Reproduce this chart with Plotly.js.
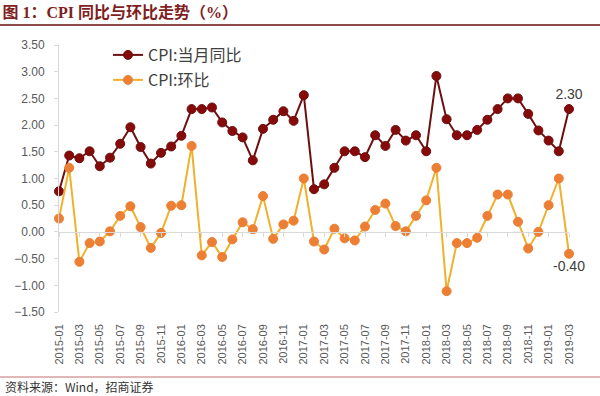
<!DOCTYPE html>
<html>
<head>
<meta charset="utf-8">
<script src="https://cdn.plot.ly/plotly-3.0.1.min.js"></script>
<style>html,body{margin:0;padding:0;background:#fff;}#chart{width:600px;height:396px;}</style>
</head>
<body>
<div id="chart"></div>
<script>
// Months 2015-01 .. 2019-03
const months = [
  "2015-01","2015-02","2015-03","2015-04","2015-05","2015-06","2015-07","2015-08","2015-09","2015-10","2015-11","2015-12",
  "2016-01","2016-02","2016-03","2016-04","2016-05","2016-06","2016-07","2016-08","2016-09","2016-10","2016-11","2016-12",
  "2017-01","2017-02","2017-03","2017-04","2017-05","2017-06","2017-07","2017-08","2017-09","2017-10","2017-11","2017-12",
  "2018-01","2018-02","2018-03","2018-04","2018-05","2018-06","2018-07","2018-08","2018-09","2018-10","2018-11","2018-12",
  "2019-01","2019-02","2019-03"
];
// CPI: 当月同比 (YoY, %)
const cpiYoY = [
  0.76,1.43,1.38,1.51,1.23,1.39,1.65,1.96,1.59,1.28,1.48,1.60,
  1.80,2.30,2.30,2.33,2.05,1.89,1.77,1.34,1.93,2.10,2.26,2.08,
  2.56,0.80,0.89,1.20,1.51,1.51,1.40,1.81,1.61,1.91,1.71,1.81,
  1.51,2.92,2.11,1.81,1.81,1.91,2.10,2.30,2.50,2.50,2.21,1.90,
  1.71,1.51,2.30
];
// CPI: 环比 (MoM, %)
const cpiMoM = [
  0.25,1.20,-0.56,-0.21,-0.18,0.01,0.30,0.48,0.09,-0.30,-0.02,0.49,
  0.50,1.61,-0.44,-0.19,-0.47,-0.14,0.18,0.05,0.67,-0.13,0.14,0.21,
  1.00,-0.18,-0.33,0.06,-0.12,-0.16,0.10,0.41,0.53,0.11,0.01,0.30,
  0.59,1.20,-1.11,-0.21,-0.21,-0.11,0.30,0.70,0.70,0.19,-0.31,0.00,
  0.50,1.00,-0.41
];
const yTicks = [3.5,3.0,2.5,2.0,1.5,1.0,0.5,0.0,-0.5,-1.0,-1.5];
const xTickLabels = months.filter((m,i)=> i % 2 === 0);

const seriesNames = ["CPI:当月同比","CPI:环比"];
const titleText = "图 1：CPI 同比与环比走势（%）";
const sourceText = "资料来源：Wind，招商证券";

const W = 600, H = 396;
const M = {l:59, r:31, t:45, b:84};
const PW = W - M.l - M.r, PH = H - M.t - M.b;
const yMin = -1.5, yMax = 3.5;

const lastIdx = months.length - 1;
const lastLabel = arr => arr.map((v,i)=> i === lastIdx ? (v.toFixed(1) + "0") : "");

const numFont = "Liberation Sans, Arial, sans-serif";
const cjkFont = "Noto Sans CJK SC, sans-serif";

const traces = [
  {
    x: months, y: cpiYoY, name: seriesNames[0], type: "scatter", mode: "lines+markers+text",
    line: {color: "#6E0F0F", width: 2},
    marker: {color: "#870A0A", size: 9, line: {color: "#6E0F0F", width: 1}},
    text: lastLabel(cpiYoY), textposition: "top center",
    textfont: {family: numFont, size: 14, color: "#404040"},
    cliponaxis: false, legend: "legend", hoverinfo: "x+y"
  },
  {
    x: months, y: cpiMoM, name: seriesNames[1], type: "scatter", mode: "lines+markers+text",
    line: {color: "#EFB12E", width: 2},
    marker: {color: "#EC7F34", size: 9, line: {color: "#EC7F34", width: 1}},
    text: lastLabel(cpiMoM), textposition: "bottom center",
    textfont: {family: numFont, size: 14, color: "#404040"},
    cliponaxis: false, legend: "legend2", hoverinfo: "x+y"
  },
  // carrier for the zero-crossing axis (tick marks on the 0 line)
  {
    x: months, y: cpiYoY, xaxis: "x2", yaxis: "y", type: "scatter", mode: "markers",
    marker: {opacity: 0}, showlegend: false, hoverinfo: "skip"
  }
];

const zeroPos = (0 - yMin) / (yMax - yMin);

const layout = {
  width: W, height: H,
  margin: M,
  paper_bgcolor: "#ffffff", plot_bgcolor: "#ffffff",
  showlegend: true,
  title: {
    text: "<b>" + titleText + "</b>",
    font: {family: "Liberation Serif, Noto Sans CJK SC, serif", size: 16, color: "#7F1F1F"},
    xref: "container", yref: "container", x: 0.004, xanchor: "left",
    y: 1 - 12/H, yanchor: "middle"
  },
  xaxis: {
    type: "category", categoryorder: "array", categoryarray: months,
    range: [0, lastIdx],
    tickmode: "array", tickvals: xTickLabels, ticktext: xTickLabels,
    tickangle: -90, ticks: "", showline: false, showgrid: false, zeroline: false,
    tickfont: {family: numFont, size: 11, color: "#595959"},
    ticklabelstandoff: 9, fixedrange: true
  },
  xaxis2: {
    type: "category", categoryorder: "array", categoryarray: months,
    overlaying: "x", anchor: "free", position: zeroPos,
    range: [0, lastIdx],
    tickmode: "array", tickvals: xTickLabels,
    showticklabels: false, ticks: "outside", ticklen: 4, tickcolor: "#D9D9D9", tickwidth: 1,
    showline: true, linecolor: "#D9D9D9", linewidth: 1, showgrid: false, zeroline: false
  },
  yaxis: {
    range: [yMin, yMax], tickmode: "array", tickvals: yTicks,
    tickformat: ".2f", showgrid: false, zeroline: false,
    showline: true, linecolor: "#D9D9D9", linewidth: 1,
    ticks: "outside", ticklen: 4, tickcolor: "#D9D9D9",
    tickfont: {family: numFont, size: 12, color: "#595959"},
    ticklabelstandoff: 7, fixedrange: true
  },
  legend: {
    x: (108 - M.l)/PW, y: 1 + (M.t - 38)/PH, xanchor: "left", yanchor: "top",
    bgcolor: "rgba(0,0,0,0)", borderwidth: 0,
    font: {family: cjkFont, size: 16, color: "#404040"}
  },
  legend2: {
    x: (108 - M.l)/PW, y: 1 + (M.t - 63)/PH, xanchor: "left", yanchor: "top",
    bgcolor: "rgba(0,0,0,0)", borderwidth: 0,
    font: {family: cjkFont, size: 16, color: "#404040"}
  },
  shapes: [
    {type: "line", xref: "paper", yref: "paper",
     x0: -M.l/PW, x1: (W - M.l)/PW, y0: 1 + (M.t - 25)/PH, y1: 1 + (M.t - 25)/PH,
     line: {color: "#8E4B4B", width: 2}},
    {type: "line", xref: "paper", yref: "paper",
     x0: -M.l/PW, x1: (W - M.l)/PW, y0: -(377 - (M.t + PH))/PH, y1: -(377 - (M.t + PH))/PH,
     line: {color: "#C27070", width: 1}}
  ],
  annotations: [
    {text: sourceText, xref: "paper", yref: "paper",
     x: -(M.l - 3)/PW, xanchor: "left", y: -(386 - (M.t + PH))/PH, yanchor: "middle",
     showarrow: false, font: {family: cjkFont, size: 12, color: "#333333"}}
  ]
};

Plotly.newPlot("chart", traces, layout, {displayModeBar: false, staticPlot: true});
</script>
</body>
</html>
